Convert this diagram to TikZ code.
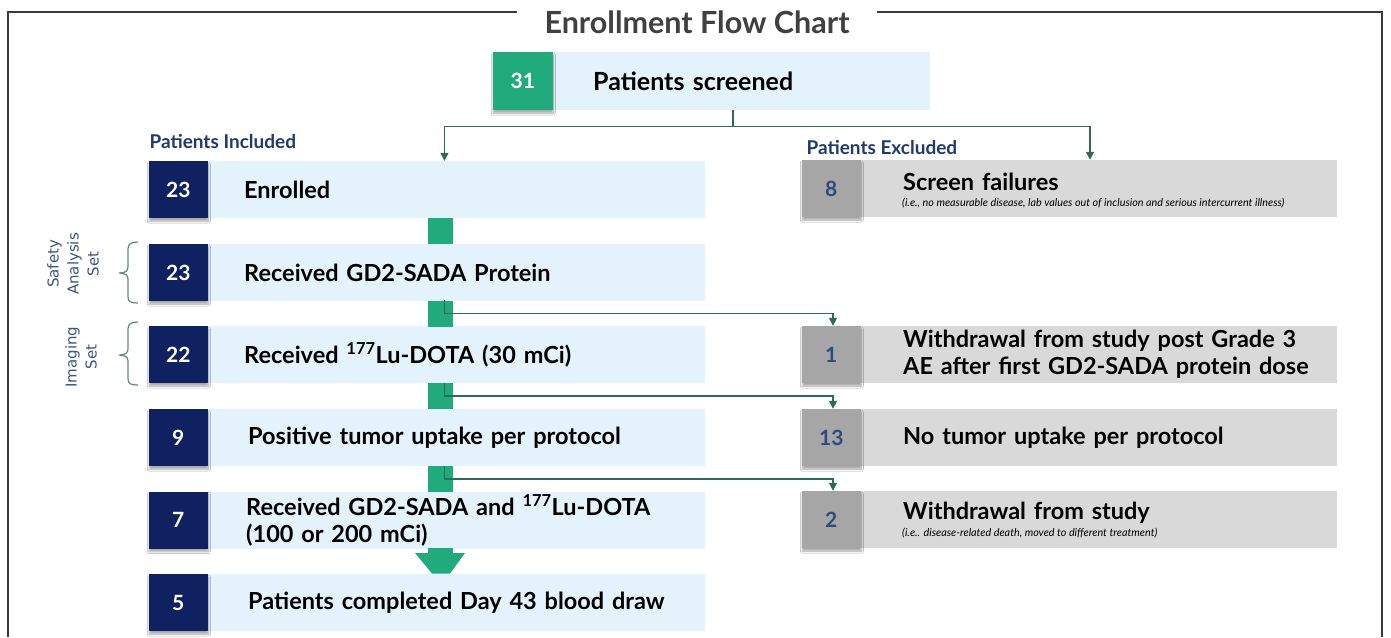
\documentclass[tikz,border=0pt]{standalone}
\usepackage{fontspec}
\setmainfont{Lato}
\newfontfamily\setfont{DejaVu Sans}
\usetikzlibrary{shadows.blur,arrows.meta,calc}

\definecolor{navy}{HTML}{0F2160}
\definecolor{teal}{HTML}{21AB7D}
\definecolor{paleblue}{HTML}{E4F2FB}
\definecolor{greybox}{HTML}{D9D9D9}
\definecolor{greysq}{HTML}{A6A6A6}
\definecolor{greynum}{HTML}{2E4A80}
\definecolor{linkcol}{HTML}{2D6B57}
\definecolor{headblue}{HTML}{1F3A6E}
\definecolor{setblue}{HTML}{3A5585}
\definecolor{bracecol}{HTML}{5F8A7A}
\definecolor{titlegrey}{HTML}{404040}
\definecolor{framegrey}{HTML}{3A3A3A}

% extra depth to lift a one-line reason above its explanatory note
\newcommand{\lift}[1]{\rule[-#1]{0pt}{0pt}}
% left indent of text lines in the exclusion boxes
\newcommand{\exind}{\hspace*{20pt}}

\tikzset{
  sq/.style={inner sep=0pt, minimum width=59pt, minimum height=57pt, anchor=east,
    font=\bfseries\fontsize{21}{22}\selectfont,
    blur shadow={shadow xshift=0.5pt, shadow yshift=-3pt, shadow opacity=35, shadow blur steps=6}},
  navysq/.style={sq, fill=navy, text=white},
  greysqr/.style={sq, fill=greysq, text=greynum},
  inbox/.style={fill=paleblue, anchor=west, minimum height=57pt, text width=425pt,
    inner xsep=36pt, inner ysep=0pt, align=left, font=\bfseries\fontsize{23.5}{27}\selectfont},
  exbox/.style={fill=greybox, anchor=west, minimum height=57pt, text width=432pt,
    inner xsep=22pt, inner ysep=0pt, align=left, font=\bfseries\fontsize{23.5}{27}\selectfont},
  exnote/.style={anchor=west, inner sep=0pt, font=\itshape\fontsize{10.8}{12}\selectfont},
  joint/.style={fill=teal, inner sep=0pt, minimum width=25pt, minimum height=26pt},
  conn/.style={draw=linkcol, line width=1.4pt},
  connarrow/.style={conn, -{Triangle[length=8pt,width=8pt]}},
  heading/.style={anchor=west, text=headblue, font=\bfseries\fontsize{19}{21}\selectfont},
  setlabel/.style={rotate=90, align=center, text=setblue, font=\setfont\fontsize{15}{20}\selectfont},
  setbrace/.style={draw=bracecol, line width=1.2pt}
}

\begin{document}
\begin{tikzpicture}[x=1pt, y=-1pt]
\useasboundingbox (0,0) rectangle (1391,637);
\fill[white] (0,0) rectangle (1391,637);

% title and outer frame
\node[inner xsep=27pt, text=titlegrey, font=\bfseries\fontsize{30.5}{34}\selectfont] (title) at (697,22) {Enrollment Flow Chart};
\draw[draw=framegrey, line width=2pt] (title.west |- 0,12) -- (8,12) -- (8,637);
\draw[draw=framegrey, line width=2.4pt] (title.east |- 0,12) -- (1382,12) -- (1382,637);

% screening
\node[inbox, text width=297pt, inner xsep=40pt, minimum height=58pt, font=\bfseries\fontsize{25}{27}\selectfont] (scrbox) at (553,81) {Patients screened};
\node[sq, fill=teal, text=white, minimum width=60pt, minimum height=58pt] (scrnum) at (553,81) {31};

% column headings
\node[heading] (inchead) at (146,142) {Patients Included};
\node[heading] (exhead) at (803,148) {Patients Excluded};

% included column
\node[inbox] (en) at (208,189.5) {Enrolled};
\node[navysq] (enN) at (208,189.5) {23};
\node[inbox] (gd) at (208,272.5) {Received GD2-SADA Protein};
\node[navysq] (gdN) at (208,272.5) {23};
\node[inbox] (lu) at (208,354.5) {Received \textsuperscript{177}Lu-DOTA (30 mCi)};
\node[navysq] (luN) at (208,354.5) {22};
\node[inbox] (pos) at (208,437.5) {\hspace*{4pt}Positive tumor uptake per protocol};
\node[navysq] (posN) at (208,437.5) {9};
\node[inbox] (both) at (208,520) {\hspace*{2pt}Received GD2-SADA and \textsuperscript{177}Lu-DOTA\\\hspace*{2pt}(100 or 200 mCi)};
\node[navysq] (bothN) at (208,520) {7};
\node[inbox] (done) at (208,602.5) {\hspace*{4pt}Patients completed Day 43 blood draw};
\node[navysq] (doneN) at (208,602.5) {5};

% excluded column
\node[exbox] (sf) at (861,188.5) {\exind Screen failures\lift{14pt}};
\node[greysqr] (sfN) at (861,188.5) {8};
\node[exnote] (sfnote) at (902,203.5) {(i.e., no measurable disease, lab values out of inclusion and serious intercurrent illness)};
\node[exbox] (wd1) at (861,354.5) {\exind Withdrawal from study post Grade 3\\\exind AE after first GD2-SADA protein dose};
\node[greysqr] (wd1N) at (861,354.5) {1};
\node[exbox] (nt) at (861,437.5) {\exind No tumor uptake per protocol};
\node[greysqr] (ntN) at (861,437.5) {13};
\node[exbox] (wd2) at (861,519.5) {\exind Withdrawal from study\lift{17pt}};
\node[greysqr] (wd2N) at (861,519.5) {2};
\node[exnote] (wd2note) at (902,533) {(i.e.. disease-related death, moved to different treatment)};

% green joints between included rows
\node[joint] (jA) at (440.5,231) {};
\node[joint] (jB) at (440.5,313.5) {};
\node[joint] (jC) at (440.5,396) {};
\node[joint] (jD) at (440.5,479) {};
\fill[teal] (428,548) -- (453,548) -- (453,553) -- (465,553) -- (450,573.5)
  -- (432,573.5) -- (415,553) -- (428,553) -- cycle;

% connector guide lines
\coordinate (spine) at (444.5,0);
\coordinate (exspine) at (833,0);
\coordinate (sfdrop) at (1090,0);

% split after screening
\draw[conn] ([xshift=180pt]scrbox.south west) -- ++(0,16) coordinate (split);
\draw[connarrow] (split) -| (en.north -| spine);
\draw[connarrow] (split) -| (sf.north -| sfdrop);

% withdrawals branching off
\draw[connarrow] (jB.north -| spine) -- (jB.center -| spine) -| (wd1N.north -| exspine);
\draw[connarrow] (jC.north -| spine) -- (jC.center -| spine) -| (ntN.north -| exspine);
\draw[connarrow] (jD.north -| spine) -- (jD.center -| spine) -| (wd2N.north -| exspine);

% analysis set labels and braces
\node[setlabel] (safety) at (73,264) {Safety\\Analysis\\Set};
\node[setlabel] (imaging) at (81,357) {Imaging\\Set};
\draw[setbrace] (138,242) .. controls (131,242) and (128,244) .. (128,249) -- (128,267)
  .. controls (128,271) and (125,273) .. (119,273) .. controls (125,273) and (128,275) .. (128,279)
  -- (128,297) .. controls (128,302) and (131,303) .. (138,303);
\draw[setbrace] (138,322) .. controls (131,322) and (128,324) .. (128,329) -- (128,349)
  .. controls (128,353) and (125,355) .. (119,355) .. controls (125,355) and (128,357) .. (128,361)
  -- (128,379) .. controls (128,384) and (131,385) .. (138,385);
\end{tikzpicture}
\end{document}
